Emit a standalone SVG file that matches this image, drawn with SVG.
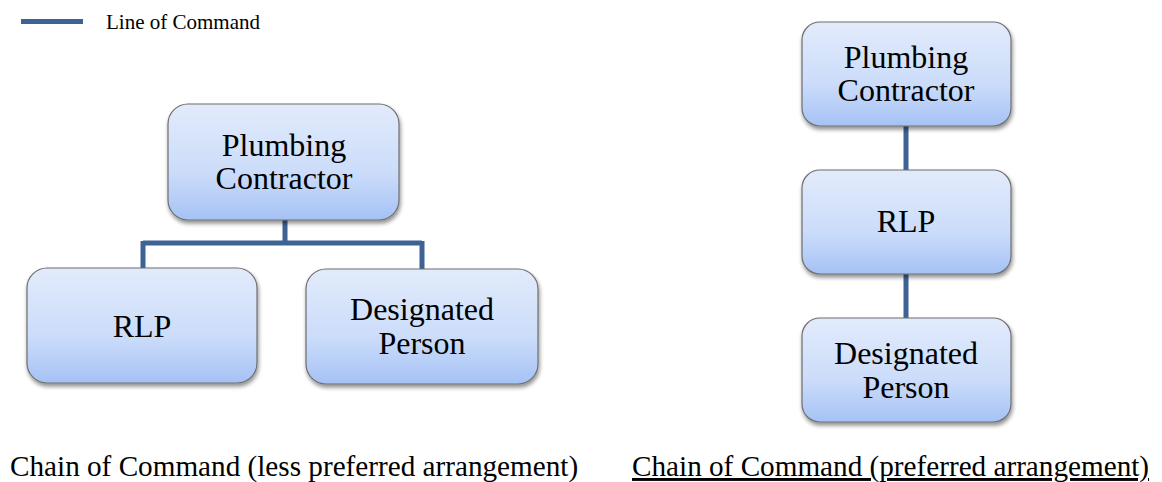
<svg xmlns="http://www.w3.org/2000/svg" width="1162" height="482" viewBox="0 0 1162 482">
<defs>
<linearGradient id="g" x1="0" y1="0" x2="0" y2="1">
<stop offset="0" stop-color="#e2ebfb"/>
<stop offset="0.6" stop-color="#cbdcfa"/>
<stop offset="1" stop-color="#a5c2f5"/>
</linearGradient>
<filter id="sh" x="-10%" y="-10%" width="125%" height="130%">
<feGaussianBlur in="SourceAlpha" stdDeviation="2"/>
<feOffset dx="1" dy="3" result="b"/>
<feComponentTransfer><feFuncA type="linear" slope="0.45"/></feComponentTransfer>
<feMerge><feMergeNode/><feMergeNode in="SourceGraphic"/></feMerge>
</filter>
</defs>
<style>
.box{fill:url(#g);stroke:#6f6f6f;stroke-width:1.2;filter:url(#sh)}
text{font-family:'Liberation Serif','Times New Roman',serif;fill:#000}
.t{font-size:32px;text-anchor:middle}
.c{fill:none;stroke:#3d6394;stroke-width:5}
.cap{font-size:29.2px}
</style>
<rect width="1162" height="482" fill="#fff"/>
<g id="legend">
<line x1="21" y1="21.5" x2="83" y2="21.5" stroke="#3d6394" stroke-width="5"/>
<text x="106" y="29" font-size="21">Line of Command</text>
</g>
<g id="connectors">
<path class="c" d="M285 220 V243 M143 243 H422 M143 241 V268 M422 241 V269"/>
<path class="c" d="M906 126 V170 M906 274 V318"/>
</g>
<g id="left-plumbing">
<rect class="box" x="168" y="104" width="231" height="116" rx="20"/>
<text class="t" x="284" y="156">Plumbing</text>
<text class="t" x="284" y="189">Contractor</text>
</g>
<g id="left-rlp">
<rect class="box" x="27" y="268" width="230" height="115" rx="20"/>
<text class="t" x="142" y="337">RLP</text>
</g>
<g id="left-designated">
<rect class="box" x="306" y="269" width="232" height="115" rx="20"/>
<text class="t" x="422" y="320">Designated</text>
<text class="t" x="422" y="354">Person</text>
</g>
<g id="right-plumbing">
<rect class="box" x="802" y="22" width="209" height="104" rx="18"/>
<text class="t" x="906" y="68">Plumbing</text>
<text class="t" x="906" y="101">Contractor</text>
</g>
<g id="right-rlp">
<rect class="box" x="802" y="170" width="209" height="104" rx="18"/>
<text class="t" x="906" y="232">RLP</text>
</g>
<g id="right-designated">
<rect class="box" x="802" y="318" width="209" height="104" rx="18"/>
<text class="t" x="906" y="364">Designated</text>
<text class="t" x="906" y="398">Person</text>
</g>
<g id="captions">
<text class="cap" x="10" y="476">Chain of Command (less preferred arrangement)</text>
<text class="cap" x="632" y="476" text-decoration="underline">Chain of Command (preferred arrangement)</text>
</g>
</svg>
